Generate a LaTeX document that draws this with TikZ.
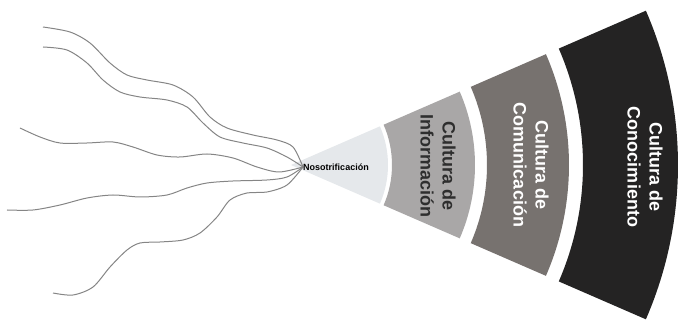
\documentclass[tikz,border=0pt]{standalone}
\usepackage{fontspec}
\setmainfont{Liberation Sans}

\definecolor{fanlight}{HTML}{E5E8EB}
\definecolor{fangray}{HTML}{A9A7A7}
\definecolor{fanmid}{HTML}{77726F}
\definecolor{fandark}{HTML}{242323}

\begin{document}
\begin{tikzpicture}[
            x=1pt, y=1pt,
            wire/.style={draw=black!48, line width=1pt},
            lbl/.style={font=\fontsize{18}{22}\selectfont\bfseries, align=center, rotate=-90},
            small/.style={font=\fontsize{9}{11}\selectfont\bfseries},
            % ring/.style={draw=white, line width=2pt},
        ]

        \useasboundingbox (0,0) rectangle (683,321);

        \coordinate (apex) at (291,156);
        \coordinate (knot) at (303,154);

        \fill[fanlight] (apex) -- ([shift={(23.5:97pt)}]apex)
            arc[start angle=23.5, end angle=-23.5, radius=97pt] -- cycle;
        \fill[fangray] ([shift={(23.5:101pt)}]apex)
            arc[start angle=23.5, end angle=-23.5, radius=101pt]
            -- ([shift={(-23.5:184pt)}]apex)
            arc[start angle=-23.5, end angle=23.5, radius=184pt] -- cycle;
        \fill[fanmid] ([shift={(23.5:196pt)}]apex)
            arc[start angle=23.5, end angle=-23.5, radius=196pt]
            -- ([shift={(-23.5:278pt)}]apex)
            arc[start angle=-23.5, end angle=23.5, radius=278pt] -- cycle;
        \fill[fandark] ([shift={(23.5:292pt)}]apex)
            arc[start angle=23.5, end angle=-23.5, radius=292pt]
            -- ([shift={(-23.5:387pt)}]apex)
            arc[start angle=-23.5, end angle=23.5, radius=387pt] -- cycle;

        \draw[wire] plot[smooth] coordinates {(43,294) (70,289) (90,278) (110,258) (127,246)
            (147,241) (173,236) (193,224) (210,204) (227,193) (253,186) (277,181) (293,174) (knot)};
        \draw[wire] plot[smooth] coordinates {(43,274) (67,271) (87,258) (103,241) (120,229)
            (140,224) (167,221) (187,214) (203,198) (220,184) (243,178) (267,173) (287,164) (knot)};
        \draw[wire] plot[smooth] coordinates {(20,193) (40,184) (60,178) (87,178) (113,179)
            (133,174) (157,166) (180,164) (207,167) (233,163) (257,154) (279,149) (knot)};
        \draw[wire] plot[smooth] coordinates {(7,111) (33,111) (60,116) (87,123) (113,126)
            (140,124) (167,126) (187,133) (207,138) (233,140) (267,141) (287,144) (knot)};
        \draw[wire] plot[smooth] coordinates {(53,28) (73,26) (93,34) (110,54) (127,71)
            (140,78) (160,79) (183,81) (200,88) (217,104) (230,121) (247,128) (267,129) (287,136) (knot)};

        \node[small] (noso) at (336,154) {Nosotrificación};
        \node[lbl, text=black!82] (info) at (438,155) {Cultura de\\Información};
        \node[lbl, text=white] (comu) at (531,156) {Cultura de\\Comunicación};
        \node[lbl, text=white] (cono) at (645,154) {Cultura de\\Conocimiento};

\end{tikzpicture}
\end{document}
